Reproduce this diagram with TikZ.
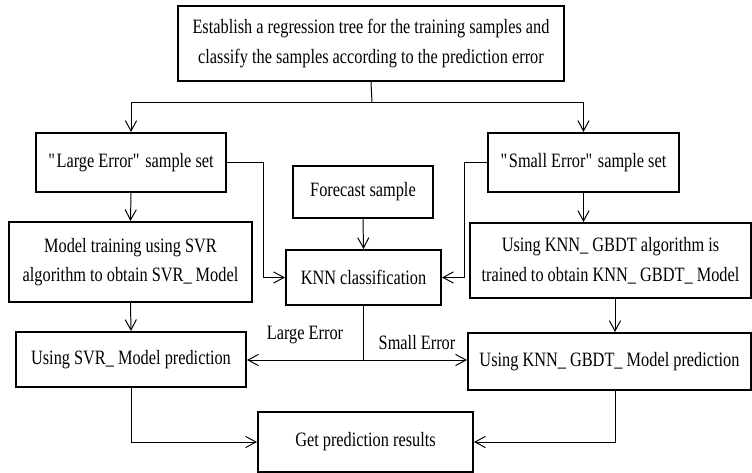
\documentclass[tikz,border=0pt]{standalone}
\usepackage{fontspec}
\setmainfont{Liberation Serif}[FakeStretch=0.8]
\usetikzlibrary{arrows.meta}

\tikzset{
  box/.style={draw, line width=1.4pt, align=center, inner sep=0pt,
              font=\fontsize{14.5}{21}\selectfont},%boxed steps
  link/.style={line width=0.7pt, -{Straight Barb[length=2.6mm,width=2.8mm]}},
  lbl/.style={font=\fontsize{14.5}{15}\selectfont},%branch labels
}

\begin{document}
\begin{tikzpicture}[x=0.025cm,y=-0.025cm]
\useasboundingbox (0,0) rectangle (752,473);
% steps
\node[box,minimum width=9.65cm,minimum height=1.875cm] (tree) at (371,43.5)
  {Establish a regression tree for the training samples and\\classify the samples according to the prediction error};
\node[box,minimum width=4.75cm,minimum height=1.475cm] (large) at (131,162.5) {\textquotedbl Large Error\textquotedbl\ sample set};
\node[box,minimum width=4.775cm,minimum height=1.475cm] (small) at (583.5,162.5) {\textquotedbl Small Error\textquotedbl\ sample set};
\node[box,minimum width=3.5cm,minimum height=1.3cm] (forecast) at (363,192) {Forecast sample};
\node[box,minimum width=3.875cm,minimum height=1.375cm] (knn) at (363.5,277.5) {KNN classification};
\node[box,minimum width=6.075cm,minimum height=2cm] (svrtrain) at (130.5,262)
  {Model training using SVR\\algorithm to obtain SVR\_ Model};
\node[box,minimum width=7.025cm,minimum height=1.875cm] (gbdttrain) at (610.5,260.5)
  {Using KNN\_ GBDT algorithm is\\trained to obtain KNN\_ GBDT\_ Model};
\node[box,minimum width=5.75cm,minimum height=1.375cm] (svrpred) at (131,359.5) {Using SVR\_ Model prediction};
\node[box,minimum width=7.075cm,minimum height=1.425cm] (gbdtpred) at (609.5,361.5) {Using KNN\_ GBDT\_ Model prediction};
\node[box,minimum width=5.375cm,minimum height=1.5cm] (result) at (365.5,442) {Get prediction results};
\node[lbl] (lglbl) at (305,335) {Large Error};
\node[lbl] (smlbl) at (417,343) {Small Error};

% bends and splits
\coordinate (split) at (372,102);
\coordinate (lturn) at (263,0);
\coordinate (rturn) at (464,0);
\coordinate (gdrop) at (615,0);
\coordinate (ksplit) at (363,360);

\draw[line width=0.7pt] (tree.south) -- (split);
\draw[link] (split) -| (large.north);
\draw[link] (split) -| (small.north);
\draw[link] (large.east) -- (large.east -| lturn) |- (knn.west);
\draw[link] (small.west) -- (small.west -| rturn) |- (knn.east);
\draw[link] (forecast.south) -- (knn.north);
\draw[link] (large.south) -- (svrtrain.north);
\draw[link] (svrtrain.south) -- (svrpred.north);
\draw[link] (small.south) -- (small.south |- gbdttrain.north);
\draw[link] (gbdttrain.south -| gdrop) -- (gbdtpred.north -| gdrop);
\draw[line width=0.7pt] (knn.south) -- (knn.south |- ksplit);
\draw[link] (knn.south |- ksplit) -- (ksplit -| svrpred.east);
\draw[link] (knn.south |- ksplit) -- (ksplit -| gbdtpred.west);
\draw[link] (svrpred.south) |- (result.west);
\draw[link] (gbdtpred.south -| gdrop) |- (result.east);
\end{tikzpicture}
\end{document}
